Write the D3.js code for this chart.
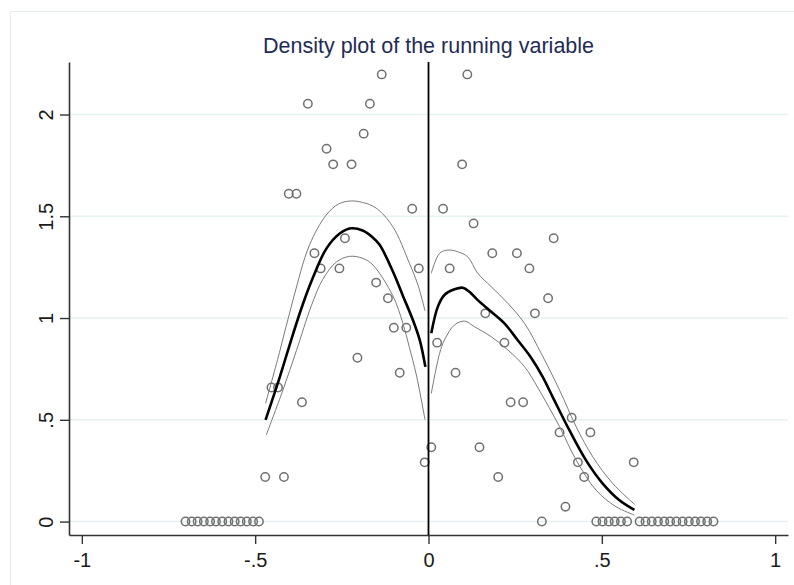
<!DOCTYPE html>
<html>
<head>
<meta charset="utf-8">
<script src="https://cdn.jsdelivr.net/npm/d3@7"></script>
<style>
  html, body { margin: 0; padding: 0; background: #fff; }
  svg { display: block; }
</style>
</head>
<body>
<svg id="chart"></svg>
<script>
// binned density (circles): x = bin midpoint, y = density
const binX = [
  -0.701, -0.683, -0.666, -0.648, -0.630, -0.613, -0.595, -0.577, -0.559, -0.542, -0.524, -0.506, -0.489,
  -0.471, -0.453, -0.434, -0.417, -0.403, -0.381, -0.365, -0.348, -0.329, -0.311, -0.294, -0.275,
  -0.257, -0.241, -0.222, -0.205, -0.187, -0.169, -0.151, -0.135, -0.117, -0.100, -0.083, -0.064,
  -0.047, -0.028, -0.011,
  0.008, 0.025, 0.042, 0.061, 0.078, 0.097, 0.112, 0.130, 0.147, 0.164, 0.184, 0.201, 0.219,
  0.237, 0.255, 0.273, 0.291, 0.307, 0.327, 0.345, 0.361, 0.378, 0.395, 0.413, 0.431, 0.449, 0.467,
  0.484, 0.502, 0.520, 0.537, 0.555, 0.573, 0.592,
  0.609, 0.626, 0.644, 0.662, 0.680, 0.697, 0.715, 0.733, 0.751, 0.769, 0.786, 0.804, 0.822
]
const binY = [
  0, 0, 0, 0, 0, 0, 0, 0, 0, 0, 0, 0, 0,
  0.219, 0.659, 0.659, 0.219, 1.611, 1.611, 0.586, 2.053, 1.318, 1.244, 1.832, 1.755,
  1.244, 1.392, 1.755, 0.805, 1.906, 2.053, 1.174, 2.197, 1.097, 0.952, 0.731, 0.952,
  1.537, 1.244, 0.291,
  0.365, 0.879, 1.537, 1.244, 0.731, 1.755, 2.197, 1.465, 0.365, 1.023, 1.318, 0.219, 0.879,
  0.586, 1.318, 0.586, 1.244, 1.023, 0, 1.097, 1.392, 0.438, 0.073, 0.510, 0.291, 0.219, 0.438,
  0, 0, 0, 0, 0, 0, 0.291,
  0, 0, 0, 0, 0, 0, 0, 0, 0, 0, 0, 0, 0
]

// local fit and confidence band, left of cutoff
const fitLeft = [
  [-0.470, 0.500], [-0.429, 0.710], [-0.391, 0.920], [-0.362, 1.070], [-0.333, 1.200],
  [-0.295, 1.340], [-0.256, 1.415], [-0.223, 1.441], [-0.190, 1.430], [-0.160, 1.395],
  [-0.141, 1.360], [-0.103, 1.230], [-0.074, 1.110], [-0.045, 0.990], [-0.025, 0.890],
  [-0.009, 0.760]
]
const upperLeft = [
  [-0.470, 0.581], [-0.430, 0.830], [-0.391, 1.088], [-0.343, 1.360], [-0.295, 1.506],
  [-0.260, 1.560], [-0.226, 1.575], [-0.190, 1.568], [-0.151, 1.540], [-0.103, 1.449],
  [-0.055, 1.269], [-0.030, 1.160], [-0.010, 1.035]
]
const lowerLeft = [
  [-0.468, 0.425], [-0.420, 0.646], [-0.381, 0.840], [-0.338, 1.060], [-0.305, 1.190],
  [-0.266, 1.275], [-0.228, 1.303], [-0.189, 1.293], [-0.160, 1.260], [-0.103, 1.110],
  [-0.074, 0.975], [-0.055, 0.855], [-0.035, 0.720], [-0.010, 0.500]
]

// right of cutoff
const fitRight = [
  [0.008, 0.925], [0.027, 1.056], [0.046, 1.113], [0.075, 1.141], [0.099, 1.149],
  [0.118, 1.129], [0.142, 1.088], [0.181, 1.031], [0.219, 0.974], [0.257, 0.892],
  [0.296, 0.805], [0.329, 0.712], [0.358, 0.613], [0.406, 0.450], [0.454, 0.302],
  [0.502, 0.188], [0.550, 0.106], [0.594, 0.057]
]
const upperRight = [
  [0.008, 1.220], [0.032, 1.318], [0.056, 1.334], [0.084, 1.326], [0.113, 1.301],
  [0.142, 1.220], [0.181, 1.154], [0.229, 1.072], [0.277, 0.974], [0.327, 0.820],
  [0.378, 0.646], [0.426, 0.466], [0.474, 0.318], [0.531, 0.188], [0.594, 0.085]
]
const lowerRight = [
  [0.008, 0.630], [0.032, 0.826], [0.046, 0.892], [0.075, 0.966], [0.104, 0.985],
  [0.133, 0.957], [0.181, 0.908], [0.229, 0.843], [0.277, 0.761], [0.318, 0.650],
  [0.378, 0.466], [0.426, 0.302], [0.483, 0.155], [0.541, 0.073], [0.594, 0.032]
]

const xTicks = [-1, -0.5, 0, 0.5, 1]
const xTickLabels = ['-1', '-.5', '0', '.5', '1']
const yTicks = [0, 0.5, 1, 1.5, 2]
const yTickLabels = ['0', '.5', '1', '1.5', '2']
const title = "Density plot of the running variable"
const cutoff = 0

const width = 794
const height = 585
const margin = { top: 62, right: 6, bottom: 50, left: 69 }
const font = 'Liberation Sans, Arial, sans-serif'

const svg = d3.select('#chart')
    .attr('width', width)
    .attr('height', height)

// light frame round the graph region
svg.append('rect')
    .attr('x', 10.5)
    .attr('y', 11.5)
    .attr('width', 800)
    .attr('height', 600)
    .attr('fill', 'none')
    .attr('stroke', '#e4eef0')
    .attr('stroke-width', 1)

const x = d3.scaleLinear()
    .domain([-1.037, 1.037])
    .range([margin.left, width - margin.right])

const y = d3.scaleLinear()
    .domain([-0.066, 2.258])
    .range([height - margin.bottom, margin.top])

// gridlines
svg.append('g')
    .selectAll('line')
    .data(yTicks)
    .enter().append('line')
    .attr('x1', x.range()[0])
    .attr('x2', x.range()[1])
    .attr('y1', d => y(d))
    .attr('y2', d => y(d))
    .attr('stroke', '#e6f1f1')
    .attr('stroke-width', 1.6)

// axes
const yAxis = svg.append('g')
    .attr('transform', `translate(${margin.left},0)`)
    .call(d3.axisLeft(y).tickValues(yTicks).tickSize(9).tickSizeOuter(0)
        .tickFormat((d, i) => yTickLabels[i]))

const xAxis = svg.append('g')
    .attr('transform', `translate(0,${height - margin.bottom})`)
    .call(d3.axisBottom(x).tickValues(xTicks).tickSize(9).tickSizeOuter(0)
        .tickFormat((d, i) => xTickLabels[i]))

for (const ax of [xAxis, yAxis]) {
    ax.select('.domain').attr('stroke', '#333').attr('stroke-width', 1.6)
    ax.selectAll('.tick line').attr('stroke', '#333').attr('stroke-width', 1.4)
    ax.selectAll('.tick text')
        .attr('font-family', font)
        .attr('font-size', '20px')
        .attr('fill', '#1a1a1a')
}

xAxis.selectAll('.tick text')
    .attr('y', 31.5)
    .attr('dy', 0)

yAxis.selectAll('.tick text')
    .attr('text-anchor', 'middle')
    .attr('dy', 0)
    .attr('x', 0)
    .attr('y', 0)
    .attr('transform', 'translate(-16,0) rotate(-90)')

// title
svg.append('text')
    .attr('x', (x.range()[0] + x.range()[1]) / 2)
    .attr('y', 53)
    .attr('text-anchor', 'middle')
    .attr('font-family', font)
    .attr('font-size', '21.5px')
    .attr('fill', '#1f2c56')
    .text(title)

// scatter of bins
svg.append('g')
    .selectAll('circle')
    .data(binX.map((d, i) => [d, binY[i]]))
    .enter().append('circle')
    .attr('cx', d => x(d[0]))
    .attr('cy', d => y(d[1]))
    .attr('r', 4.2)
    .attr('fill', 'none')
    .attr('stroke', '#707070')
    .attr('stroke-width', 1.5)

// fitted lines
const line = d3.line()
    .x(d => x(d[0]))
    .y(d => y(d[1]))
    .curve(d3.curveCatmullRom.alpha(0.5))

for (const band of [upperLeft, lowerLeft, upperRight, lowerRight]) {
    svg.append('path')
        .datum(band)
        .attr('d', line)
        .attr('fill', 'none')
        .attr('stroke', '#7a7a7a')
        .attr('stroke-width', 1)
}

for (const fit of [fitLeft, fitRight]) {
    svg.append('path')
        .datum(fit)
        .attr('d', line)
        .attr('fill', 'none')
        .attr('stroke', '#000')
        .attr('stroke-width', 2.6)
}

// cutoff line
svg.append('line')
    .attr('x1', x(cutoff))
    .attr('x2', x(cutoff))
    .attr('y1', y.range()[1])
    .attr('y2', y.range()[0])
    .attr('stroke', '#000')
    .attr('stroke-width', 1.8)
</script>
</body>
</html>
